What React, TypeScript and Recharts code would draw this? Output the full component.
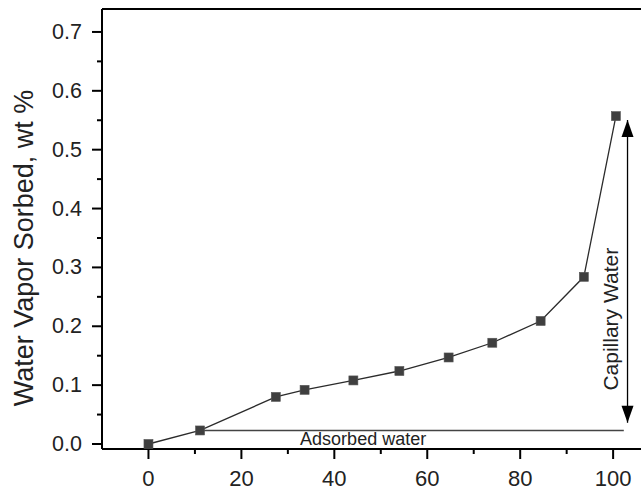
import React from "react";
import {
  ComposedChart,
  Line,
  XAxis,
  YAxis,
  ReferenceLine,
  ReferenceDot,
} from "recharts";

// relative humidity (%) and water vapor sorbed (wt %)
const humidity = [0, 11.1, 27.4, 33.6, 44.1, 54.0, 64.6, 74.0, 84.4, 93.7, 100.6];
const sorbed = [0.0, 0.023, 0.080, 0.092, 0.108, 0.124, 0.147, 0.172, 0.209, 0.284, 0.557];

const xTicks = [0, 10, 20, 30, 40, 50, 60, 70, 80, 90, 100];
const xMajor = [0, 20, 40, 60, 80, 100];
const yTicks = [0, 0.05, 0.1, 0.15, 0.2, 0.25, 0.3, 0.35, 0.4, 0.45, 0.5, 0.55, 0.6, 0.65, 0.7];
const yMajor = [0, 0.1, 0.2, 0.3, 0.4, 0.5, 0.6, 0.7];

const xDomain = [-10, 106];
const yDomain = [-0.0085, 0.739];

// annotations
const adsorbedFrom = 11.1;
const adsorbedTo = 102.3;
const adsorbedLevel = 0.023;
const adsorbedLabelX = 46.2;
const capillaryX = 103.1;
const capillaryBottom = 0.036;
const capillaryTop = 0.5505;
const capillaryLabel = { x: 99.4, y: 0.212 };

const data = humidity.map((h, i) => ({ rh: h, value: sorbed[i] }));

const FONT = "'Liberation Sans', Arial, Helvetica, sans-serif";

const XTick = (props: any) => {
  const { x, y, payload } = props;
  const major = xMajor.includes(payload.value);
  return (
    <g>
      <line x1={x} y1={y} x2={x} y2={y + (major ? 10 : 5)} stroke="#000" strokeWidth={2} />
      {major && (
        <text x={x} y={y + 29} textAnchor="middle" dominantBaseline="central" fontSize={22} fontFamily={FONT} fill="#222">
          {payload.value}
        </text>
      )}
    </g>
  );
};

const YTick = (props: any) => {
  const { x, y, payload } = props;
  const major = yMajor.some((m) => Math.abs(m - payload.value) < 1e-6);
  return (
    <g>
      <line x1={x} y1={y} x2={x - (major ? 10 : 5)} y2={y} stroke="#000" strokeWidth={2} />
      {major && (
        <text x={x - 20} y={y} textAnchor="end" dominantBaseline="central" fontSize={21.5} fontFamily={FONT} fill="#222">
          {payload.value.toFixed(1)}
        </text>
      )}
    </g>
  );
};

const SquareDot = (props: any) => {
  const { cx, cy } = props;
  if (cx == null || cy == null) return null;
  return <rect x={cx - 4.5} y={cy - 4.5} width={9} height={9} fill="#3f3f3f" stroke="#555" strokeWidth={0.6} />;
};

const ArrowUp = (props: any) => {
  const { cx, cy } = props;
  return <polygon points={`${cx},${cy} ${cx - 6},${cy + 17} ${cx + 6},${cy + 17}`} fill="#000" />;
};

const ArrowDown = (props: any) => {
  const { cx, cy } = props;
  return <polygon points={`${cx},${cy} ${cx - 6},${cy - 17} ${cx + 6},${cy - 17}`} fill="#000" />;
};

const CapillaryText = (props: any) => {
  const { cx, cy } = props;
  return (
    <text
      x={cx}
      y={cy}
      transform={`rotate(-90 ${cx} ${cy})`}
      textAnchor="middle"
      dominantBaseline="central"
      fontSize={21}
      fontFamily={FONT}
      fill="#222"
    >
      Capillary Water
    </text>
  );
};

const AdsorbedText = (props: any) => {
  const { cx, cy } = props;
  return (
    <text x={cx} y={cy + 15} textAnchor="middle" fontSize={18} fontFamily={FONT} fill="#222">
      Adsorbed water
    </text>
  );
};

const YLabel = (props: any) => {
  const vb = props.viewBox || { x: 0, y: 9, width: 102, height: 440 };
  const cx = vb.x + 24;
  const cy = vb.y + vb.height / 2 + 19;
  return (
    <text
      x={cx}
      y={cy}
      transform={`rotate(-90 ${cx} ${cy})`}
      textAnchor="middle"
      dominantBaseline="central"
      fontSize={27}
      fontFamily={FONT}
      fill="#222"
    >
      Water Vapor Sorbed, wt %
    </text>
  );
};

export default function App() {
  return (
    <div style={{ position: "absolute", left: 0, top: 0, width: 641, height: 490, overflow: "hidden", background: "#fff" }}>
      <ComposedChart width={641} height={490} data={data} margin={{ top: 9, right: 0, bottom: 0, left: 0 }}>
        <XAxis
          type="number"
          dataKey="rh"
          domain={xDomain}
          ticks={xTicks}
          interval={0}
          allowDataOverflow
          height={41}
          tickSize={0}
          tickMargin={0}
          tickLine={false}
          axisLine={{ stroke: "#000", strokeWidth: 2 }}
          tick={<XTick />}
        />
        <YAxis
          type="number"
          domain={yDomain}
          ticks={yTicks}
          interval={0}
          allowDataOverflow
          width={102}
          tickSize={0}
          tickMargin={0}
          tickLine={false}
          axisLine={{ stroke: "#000", strokeWidth: 2 }}
          tick={<YTick />}
          label={<YLabel />}
        />
        <ReferenceLine y={yDomain[1]} stroke="#000" strokeWidth={2} />
        <ReferenceLine
          segment={[
            { x: adsorbedFrom, y: adsorbedLevel },
            { x: adsorbedTo, y: adsorbedLevel },
          ]}
          stroke="#444"
          strokeWidth={1.4}
        />
        <ReferenceDot x={adsorbedLabelX} y={adsorbedLevel} r={0} shape={<AdsorbedText />} />
        <ReferenceLine
          segment={[
            { x: capillaryX, y: capillaryBottom },
            { x: capillaryX, y: capillaryTop },
          ]}
          stroke="#000"
          strokeWidth={1.3}
        />
        <ReferenceDot x={capillaryX} y={capillaryTop} r={0} shape={<ArrowUp />} />
        <ReferenceDot x={capillaryX} y={capillaryBottom} r={0} shape={<ArrowDown />} />
        <ReferenceDot x={capillaryLabel.x} y={capillaryLabel.y} r={0} shape={<CapillaryText />} />
        <Line
          type="linear"
          dataKey="value"
          stroke="#2b2b2b"
          strokeWidth={1.3}
          dot={<SquareDot />}
          activeDot={false}
          isAnimationActive={false}
        />
      </ComposedChart>
    </div>
  );
}
